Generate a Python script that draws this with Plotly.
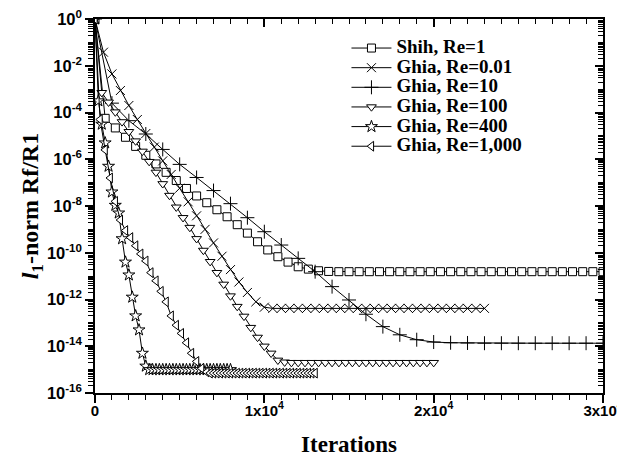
import plotly.graph_objects as go

# ---------------- data (log10 of residual) ----------------
shih_x = [0, 600, 1200, 1800, 2400, 3000, 3600, 4200, 4800, 5400, 6000, 6600, 7200, 7800,
          8400, 9000, 9600, 10200, 10800, 11400, 12000, 12600, 13200, 13800, 14400, 15000,
          15600, 16200, 16800, 17400, 18000, 18600, 19200, 19800, 20400, 21000, 21600, 22200,
          22800, 23400, 24000, 24600, 25200, 25800, 26400, 27000, 27600, 28200, 28800, 29400, 30000]
shih_log = [0, -4.25, -4.66, -5.06, -5.45, -5.83, -6.2, -6.56, -6.91, -7.25, -7.57, -7.86, -8.16, -8.46,
            -8.8, -9.16, -9.53, -9.88, -10.17, -10.4, -10.6, -10.7, -10.77, -10.8, -10.81, -10.81,
            -10.81, -10.81, -10.81, -10.81, -10.81, -10.81, -10.81, -10.81, -10.81, -10.81, -10.81, -10.81,
            -10.81, -10.81, -10.81, -10.81, -10.81, -10.81, -10.81, -10.81, -10.81, -10.81, -10.81, -10.81, -10.81]

re001_x = [0, 500, 1000, 1500, 2000, 2500, 3000, 3500, 4000, 4500, 5000, 5500, 6000, 6500, 7000,
           7500, 8000, 8500, 9000, 9500, 10000, 10500, 11000, 11500, 12000, 12500, 13000, 13500,
           14000, 14500, 15000, 15500, 16000, 16500, 17000, 17500, 18000, 18500, 19000, 19500,
           20000, 20500, 21000, 21500, 22000, 22500, 23000]
re001_log = [0, -1.42, -2.35, -3.06, -3.70, -4.3, -4.9, -5.48, -6.07, -6.65, -7.24, -7.82, -8.42, -9.0, -9.58,
             -10.15, -10.72, -11.25, -11.7, -12.1, -12.33, -12.38, -12.38, -12.38, -12.38, -12.38, -12.38, -12.38,
             -12.38, -12.38, -12.38, -12.38, -12.38, -12.38, -12.38, -12.38, -12.38, -12.38, -12.38, -12.38,
             -12.38, -12.38, -12.38, -12.38, -12.38, -12.38, -12.38]

re10_x = [0, 1000, 2000, 3000, 4000, 5000, 6000, 7000, 8000, 9000, 10000, 11000, 12000, 13000, 14000,
          15000, 16000, 17000, 18000, 19000, 20000, 21000, 22000, 23000, 24000, 25000, 26000, 27000,
          28000, 29000, 30000]
re10_log = [0, -3.6, -4.35, -4.92, -5.58, -6.22, -6.78, -7.34, -7.9, -8.5, -9.1, -9.67, -10.24, -10.81, -11.45,
            -12.02, -12.63, -13.16, -13.51, -13.72, -13.82, -13.85, -13.86, -13.87, -13.87, -13.87, -13.87, -13.87,
            -13.87, -13.87, -13.87]

re100_x = [0, 400, 800, 1200, 1600, 2000, 2400, 2800, 3200, 3600, 4000, 4400, 4800, 5200, 5600, 6000,
           6400, 6800, 7200, 7600, 8000, 8400, 8800, 9200, 9600, 10000, 10400, 10800, 11200, 11600,
           12000, 12400, 12800, 13200, 13600, 14000, 14400, 14800, 15200, 15600, 16000, 16400, 16800,
           17200, 17600, 18000, 18400, 18800, 19200, 19600, 20000]
re100_log = [0, -3.15, -3.56, -3.98, -4.4, -4.82, -5.22, -5.66, -6.1, -6.56, -7.05, -7.55, -8.05, -8.5, -8.92, -9.4,
             -9.9, -10.38, -10.85, -11.35, -11.85, -12.3, -12.72, -13.2, -13.62, -14.0, -14.3, -14.6, -14.68, -14.7,
             -14.7, -14.7, -14.7, -14.7, -14.7, -14.7, -14.7, -14.7, -14.7, -14.7, -14.7, -14.7, -14.7,
             -14.7, -14.7, -14.7, -14.7, -14.7, -14.7, -14.7, -14.7]

re400_x = [0, 200, 400, 600, 800, 1000, 1200, 1400, 1600, 1800, 2000, 2200, 2400, 2600, 2800, 3000,
           3200, 3400, 3600, 3800, 4000, 4200, 4400, 4600, 4800, 5000, 5200, 5400, 5600, 5800, 6000,
           6200, 6400, 6600, 6800, 7000, 7200, 7400, 7600, 7800, 8000]
re400_log = [0, -3.5, -4.5, -5.3, -6.3, -7.4, -7.97, -8.3, -9.4, -10.4, -10.95, -11.9, -12.7, -13.3, -14.3, -14.85,
             -15.0, -15.0, -15.0, -15.0, -15.0, -15.0, -15.0, -15.0, -15.0, -15.0, -15.0, -15.0, -15.0, -15.0, -15.0,
             -15.0, -15.0, -15.0, -15.0, -15.0, -15.0, -15.0, -15.0, -15.0, -15.0]

re1000_x = [0, 300, 600, 900, 1200, 1500, 1800, 2100, 2400, 2700, 3000, 3300, 3600, 3900, 4200, 4500,
            4800, 5100, 5400, 5700, 6000, 6300, 6600, 6800, 7000, 7200, 7400, 7600, 7800, 8000, 8200,
            8400, 8600, 8800, 9000, 9200, 9400, 9600, 9800, 10000, 10200, 10400, 10600, 10800, 11000,
            11200, 11400, 11600, 11800, 12000, 12200, 12400, 12600, 12800, 13000]
re1000_log = [0, -4.3, -5.6, -6.8, -7.8, -8.6, -9.05, -9.35, -9.7, -10.05, -10.35, -10.85, -11.2, -11.65, -12.1, -12.7,
              -13.1, -13.45, -13.85, -14.3, -14.65, -14.95, -15.1, -15.15, -15.15, -15.15, -15.15, -15.15, -15.15, -15.15, -15.15,
              -15.15, -15.15, -15.15, -15.15, -15.15, -15.15, -15.15, -15.15, -15.15, -15.15, -15.15, -15.15, -15.15, -15.15,
              -15.15, -15.15, -15.15, -15.15, -15.15, -15.15, -15.15, -15.15, -15.15, -15.15]

series_names = ["Shih, Re=1", "Ghia, Re=0.01", "Ghia, Re=10", "Ghia, Re=100", "Ghia, Re=400", "Ghia, Re=1,000"]
x_tick_vals = [0, 10000, 20000, 30000]
x_tick_text = ["0", "1x10<sup>4</sup>", "2x10<sup>4</sup>", "3x10<sup>4</sup>"]
y_tick_exps = [0, -2, -4, -6, -8, -10, -12, -14, -16]

# ---------------- figure ----------------
SERIF = "Times New Roman, Liberation Serif, serif"
SANS = "Arial, Liberation Sans, sans-serif"

def yvals(logs):
    return [10 ** v for v in logs]

specs = [
    (shih_x, shih_log, "square", 8, "white"),
    (re001_x, re001_log, "x-thin", 9, "black"),
    (re10_x, re10_log, "cross-thin", 10, "black"),
    (re100_x, re100_log, "triangle-down", 8.5, "white"),
    (re400_x, re400_log, "star", 9, "white"),
    (re1000_x, re1000_log, "triangle-left", 8.5, "white"),
]

fig = go.Figure()
for (xs, ls, sym, sz, fill), name in zip(specs, series_names):
    fig.add_trace(go.Scatter(
        x=xs, y=yvals(ls), mode="lines+markers",
        name='<span style="font-size:19px">' + name + '</span>',
        line=dict(color="black", width=1),
        marker=dict(symbol=sym, size=sz, color=fill, line=dict(color="black", width=1)),
    ))

# invisible trace to carry the mirrored (top / right) axes
fig.add_trace(go.Scatter(x=[None], y=[None], xaxis="x2", yaxis="y2",
                         showlegend=False, hoverinfo="skip"))

y_tick_vals = [10.0 ** e for e in y_tick_exps]
y_tick_text = ["10<sup>%d</sup>" % e for e in y_tick_exps]
y_minor = [m * 10.0 ** e for e in range(-16, 0) for m in range(1, 10)
           if not (m == 1 and e % 2 == 0)]

axis_common = dict(showline=True, linecolor="black", linewidth=1.5, showgrid=False,
                   zeroline=False, tickcolor="black", automargin=False)

# the page body adds an 8px offset, so the figure is sized to fit inside the 625x466 window
fig.update_layout(
    width=617, height=458,
    margin=dict(l=87, r=22, t=11, b=73),
    paper_bgcolor="white", plot_bgcolor="white",
    showlegend=True,
    legend=dict(x=0.495, y=0.962, xanchor="left", yanchor="top",
                bgcolor="rgba(0,0,0,0)", borderwidth=0,
                font=dict(family=SERIF, size=12.8, color="black", weight="bold"),
                itemwidth=40),
    xaxis=dict(range=[0, 30000], tickmode="array", tickvals=x_tick_vals, ticktext=x_tick_text,
               ticks="outside", ticklen=8, tickwidth=1.5, ticklabelstandoff=-5,
               ticklabeloverflow="allow",
               minor=dict(dtick=1000, tick0=0, ticks="outside", ticklen=5, tickwidth=1, tickcolor="black"),
               tickfont=dict(family=SANS, size=15, color="black", weight="bold"),
               title=dict(text="Iterations", standoff=18,
                          font=dict(family=SERIF, size=23, color="black", weight="bold")),
               **axis_common),
    yaxis=dict(type="log", range=[-16, 0], tickmode="array", tickvals=y_tick_vals, ticktext=y_tick_text,
               ticks="outside", ticklen=8, tickwidth=1.5, ticklabeloverflow="allow",
               minor=dict(tickmode="array", tickvals=y_minor, ticks="outside", ticklen=5, tickwidth=1,
                          tickcolor="black"),
               tickfont=dict(family=SANS, size=16.5, color="black", weight="bold"),
               title=dict(text="<i>l</i><sub>1</sub>-norm Rf/R1", standoff=0,
                          font=dict(family=SERIF, size=24, color="black", weight="bold")),
               **axis_common),
    xaxis2=dict(overlaying="x", side="top", anchor="y2", range=[0, 30000], tickmode="array",
                tickvals=x_tick_vals, showticklabels=False, ticks="inside", ticklen=8, tickwidth=1.5,
                minor=dict(dtick=1000, tick0=0, ticks="inside", ticklen=5, tickwidth=1, tickcolor="black"),
                **axis_common),
    yaxis2=dict(overlaying="y", side="right", anchor="x2", type="log", range=[-16, 0], tickmode="array",
                tickvals=y_tick_vals, showticklabels=False, ticks="inside", ticklen=8, tickwidth=1.5,
                minor=dict(tickmode="array", tickvals=y_minor, ticks="inside", ticklen=5, tickwidth=1,
                           tickcolor="black"),
                **axis_common),
)

fig.write_html("out.html")
